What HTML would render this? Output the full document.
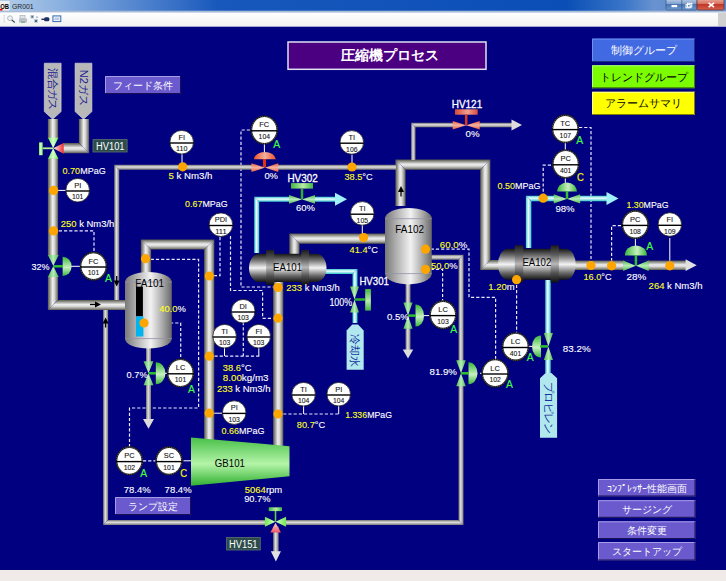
<!DOCTYPE html><html><head><meta charset="utf-8"><style>html,body{margin:0;padding:0;width:726px;height:581px;overflow:hidden;background:#f0ebe9}svg{display:block;font-family:"Liberation Sans",sans-serif}</style></head><body>
<svg width="726" height="581" viewBox="0 0 726 581">
<defs>
<linearGradient id="thick_h" x1="0" y1="0" x2="0" y2="1"><stop offset="0" stop-color="#58584c"/><stop offset="0.2" stop-color="#9a9a94"/><stop offset="0.45" stop-color="#ececec"/><stop offset="0.62" stop-color="#dcdcdc"/><stop offset="0.85" stop-color="#94948c"/><stop offset="1" stop-color="#58584c"/></linearGradient>
<linearGradient id="thick_v" x1="0" y1="0" x2="1" y2="0"><stop offset="0" stop-color="#58584c"/><stop offset="0.2" stop-color="#9a9a94"/><stop offset="0.45" stop-color="#ececec"/><stop offset="0.62" stop-color="#dcdcdc"/><stop offset="0.85" stop-color="#94948c"/><stop offset="1" stop-color="#58584c"/></linearGradient>
<linearGradient id="thin_h" x1="0" y1="0" x2="0" y2="1"><stop offset="0" stop-color="#707070"/><stop offset="0.45" stop-color="#e2e2e2"/><stop offset="1" stop-color="#787878"/></linearGradient>
<linearGradient id="thin_v" x1="0" y1="0" x2="1" y2="0"><stop offset="0" stop-color="#707070"/><stop offset="0.45" stop-color="#e2e2e2"/><stop offset="1" stop-color="#787878"/></linearGradient>
<linearGradient id="cyan_h" x1="0" y1="0" x2="0" y2="1"><stop offset="0" stop-color="#38c4cc"/><stop offset="0.45" stop-color="#f0ffff"/><stop offset="1" stop-color="#38c4cc"/></linearGradient>
<linearGradient id="cyan_v" x1="0" y1="0" x2="1" y2="0"><stop offset="0" stop-color="#38c4cc"/><stop offset="0.45" stop-color="#f0ffff"/><stop offset="1" stop-color="#38c4cc"/></linearGradient>
<linearGradient id="gv_h" x1="0" y1="0" x2="1" y2="0"><stop offset="0" stop-color="#4cb84c"/><stop offset="0.5" stop-color="#b8ecb8"/><stop offset="1" stop-color="#4cb84c"/></linearGradient>
<linearGradient id="gv_v" x1="0" y1="0" x2="0" y2="1"><stop offset="0" stop-color="#4cb84c"/><stop offset="0.5" stop-color="#b8ecb8"/><stop offset="1" stop-color="#4cb84c"/></linearGradient>
<linearGradient id="gbar_h" x1="0" y1="0" x2="1" y2="0"><stop offset="0" stop-color="#40b840"/><stop offset="0.55" stop-color="#b8eca8"/><stop offset="1" stop-color="#40b840"/></linearGradient>
<linearGradient id="gbar_v" x1="0" y1="0" x2="0" y2="1"><stop offset="0" stop-color="#40b840"/><stop offset="0.55" stop-color="#b8eca8"/><stop offset="1" stop-color="#40b840"/></linearGradient>
<linearGradient id="gdome_v" x1="0" y1="0" x2="0" y2="1"><stop offset="0" stop-color="#38b838"/><stop offset="0.55" stop-color="#c8f0c0"/><stop offset="1" stop-color="#38b838"/></linearGradient>
<linearGradient id="gdome_h" x1="0" y1="0" x2="1" y2="0"><stop offset="0" stop-color="#38b838"/><stop offset="0.55" stop-color="#c8f0c0"/><stop offset="1" stop-color="#38b838"/></linearGradient>
<radialGradient id="gdome" cx="0.5" cy="0.6" r="0.6"><stop offset="0" stop-color="#c0f0c0"/><stop offset="1" stop-color="#40b040"/></radialGradient>
<linearGradient id="rv_h" x1="0" y1="0" x2="1" y2="0"><stop offset="0" stop-color="#e05a40"/><stop offset="0.5" stop-color="#f8b0a0"/><stop offset="1" stop-color="#e05a40"/></linearGradient>
<linearGradient id="rbar_h" x1="0" y1="0" x2="1" y2="0"><stop offset="0" stop-color="#d84a38"/><stop offset="0.55" stop-color="#f0a090"/><stop offset="1" stop-color="#d84a38"/></linearGradient>
<linearGradient id="rv_v" x1="0" y1="0" x2="0" y2="1"><stop offset="0" stop-color="#f05a38"/><stop offset="0.5" stop-color="#f4b0a0"/><stop offset="1" stop-color="#f05a38"/></linearGradient>
<linearGradient id="rdome_h" x1="0" y1="0" x2="1" y2="0"><stop offset="0" stop-color="#f05020"/><stop offset="0.5" stop-color="#f0b0a0"/><stop offset="1" stop-color="#f05020"/></linearGradient>
<radialGradient id="rdome" cx="0.5" cy="0.6" r="0.6"><stop offset="0" stop-color="#f8a090"/><stop offset="1" stop-color="#d84a38"/></radialGradient>
<linearGradient id="vessel" x1="0" y1="0" x2="1" y2="0"><stop offset="0" stop-color="#787878"/><stop offset="0.25" stop-color="#b2b2b2"/><stop offset="0.55" stop-color="#f2f2f2"/><stop offset="0.8" stop-color="#aaaaaa"/><stop offset="1" stop-color="#686868"/></linearGradient>
<linearGradient id="hx" x1="0" y1="0" x2="0" y2="1"><stop offset="0" stop-color="#181818"/><stop offset="0.22" stop-color="#707070"/><stop offset="0.5" stop-color="#f4f4f4"/><stop offset="0.78" stop-color="#686868"/><stop offset="1" stop-color="#141414"/></linearGradient>
<linearGradient id="hxf" x1="0" y1="0" x2="0" y2="1"><stop offset="0" stop-color="#1c1c1c"/><stop offset="0.25" stop-color="#5a5a5a"/><stop offset="0.5" stop-color="#b8b8b8"/><stop offset="0.75" stop-color="#505050"/><stop offset="1" stop-color="#101010"/></linearGradient>
<linearGradient id="gb" x1="0" y1="0" x2="0" y2="1"><stop offset="0" stop-color="#48c048"/><stop offset="0.55" stop-color="#b4f4a8"/><stop offset="1" stop-color="#30b030"/></linearGradient>
<linearGradient id="title" x1="0" y1="0" x2="1" y2="0"><stop offset="0" stop-color="#b4cdea"/><stop offset="0.08" stop-color="#8cb2e0"/><stop offset="0.3" stop-color="#1858bc"/><stop offset="0.78" stop-color="#0a4eb6"/><stop offset="0.86" stop-color="#3a76c8"/><stop offset="0.9" stop-color="#6892d0"/><stop offset="1" stop-color="#5a88cc"/></linearGradient>
<linearGradient id="tool" x1="0" y1="0" x2="0" y2="1"><stop offset="0" stop-color="#ffffff"/><stop offset="1" stop-color="#f0f0f0"/></linearGradient>
</defs>
<rect x="0.0" y="0.0" width="726.0" height="581.0" fill="#f0ebe9" />
<rect x="0.0" y="0.0" width="726.0" height="12.5" fill="url(#title)" />
<rect x="0.0" y="10.7" width="726.0" height="1.7" fill="#a8bcd8" />
<rect x="0.0" y="12.5" width="726.0" height="14.5" fill="url(#tool)" />
<rect x="0.0" y="26.5" width="726.0" height="0.5" fill="#a0b0c8" />
<rect x="0.0" y="26.8" width="726.0" height="543.2" fill="#000080" />
<rect x="0.0" y="1.0" width="9.5" height="9.5" fill="#f0f0f0" />
<text x="0.3" y="8.6" font-size="7" font-weight="bold" fill="#000" textLength="8.8" lengthAdjust="spacingAndGlyphs">OB</text>
<rect x="0.0" y="8.8" width="2.5" height="1.7" fill="#e00000" />
<text x="12.0" y="9.2" font-size="7.6" fill="#222" text-anchor="start" font-weight="normal" textLength="21.6" lengthAdjust="spacingAndGlyphs">GR001</text>
<linearGradient id="wbtn" x1="0" y1="0" x2="0" y2="1"><stop offset="0" stop-color="#b8cce8"/><stop offset="0.45" stop-color="#7f9fcc"/><stop offset="0.5" stop-color="#4a76b4"/><stop offset="1" stop-color="#6a9ad0"/></linearGradient>
<linearGradient id="wcls" x1="0" y1="0" x2="0" y2="1"><stop offset="0" stop-color="#e8a898"/><stop offset="0.45" stop-color="#d87060"/><stop offset="0.5" stop-color="#c03828"/><stop offset="1" stop-color="#d86050"/></linearGradient>
<rect x="666.0" y="-1.0" width="31.0" height="11.0" fill="url(#wbtn)" stroke="#40587a" stroke-width="0.7" rx="1.5"/>
<line x1="681.8" y1="0" x2="681.8" y2="10" stroke="#40587a" stroke-width="0.7"/>
<rect x="697.0" y="-1.0" width="27.0" height="11.0" fill="url(#wcls)" stroke="#603030" stroke-width="0.7" rx="1.5"/>
<rect x="671.5" y="5.0" width="5.7" height="2.2" fill="#fff" />
<rect x="687.5" y="3.3" width="4.3" height="3.7" fill="none" stroke="#fff" stroke-width="1"/>
<rect x="686.0" y="4.6" width="4.2" height="3.2" fill="none" stroke="#fff" stroke-width="1"/>
<path d="M708.6,2.8 L714,7.2 M714,2.8 L708.6,7.2" stroke="#fff" stroke-width="1.6"/>
<rect x="3.5" y="15.4" width="1.3" height="0.9" fill="#c0c0c0" />
<rect x="3.5" y="17.4" width="1.3" height="0.9" fill="#c0c0c0" />
<rect x="3.5" y="19.4" width="1.3" height="0.9" fill="#c0c0c0" />
<rect x="3.5" y="21.4" width="1.3" height="0.9" fill="#c0c0c0" />
<circle cx="10" cy="18.2" r="2.4" fill="#f0f4f8" stroke="#a8b4c0" stroke-width="0.9"/><line x1="11.8" y1="20" x2="14.8" y2="22.6" stroke="#405060" stroke-width="1.3"/>
<rect x="20.0" y="15.5" width="5.0" height="3.0" fill="#e0e4ea" stroke="#a0a8b0" stroke-width="0.6"/>
<rect x="19.0" y="18.5" width="8.0" height="4.0" fill="#b8c0c8" />
<rect x="21.0" y="21.5" width="4.0" height="1.3" fill="#80a080" />
<rect x="30.5" y="15.0" width="3.5" height="3.5" fill="#b0c0d0" />
<rect x="31.5" y="16.0" width="1.5" height="1.5" fill="#406890" />
<rect x="34.0" y="19.0" width="4.0" height="3.8" fill="#c0ccd8" />
<rect x="35.0" y="20.0" width="2.0" height="2.0" fill="#406890" />
<rect x="36.5" y="16.5" width="1.0" height="1.5" fill="#5080b0" />
<rect x="41.4" y="18.6" width="2.6" height="1.4" fill="#203060" />
<rect x="44.0" y="17.2" width="5.4" height="4.0" fill="#203060" rx="1.5"/>
<rect x="52.9" y="15.9" width="7.9" height="5.7" fill="#e8f0f8" stroke="#3a6ab0" stroke-width="1"/>
<rect x="54.5" y="17.5" width="4.7" height="2.5" fill="#b8cce8" />
<rect x="718.0" y="13.0" width="8.0" height="13.0" fill="#d0d0d0" />
<polyline points="53.6,230.9 94.0,230.9 94.0,252.0" fill="none" stroke="#e8e8ff" stroke-width="1.2" stroke-dasharray="3.2 2"/>
<polyline points="250.0,130.0 241.0,130.0 241.0,287.0 278.0,287.0" fill="none" stroke="#e8e8ff" stroke-width="1.2" stroke-dasharray="3.2 2"/>
<polyline points="220.0,237.0 220.0,275.6 209.0,275.6" fill="none" stroke="#e8e8ff" stroke-width="1.2" stroke-dasharray="3.2 2"/>
<polyline points="230.5,236.0 230.5,290.5 262.6,290.5 262.6,318.3 278.0,318.3" fill="none" stroke="#e8e8ff" stroke-width="1.2" stroke-dasharray="3.2 2"/>
<polyline points="145.5,259.3 198.6,259.3 198.6,408.0 129.5,408.0 129.5,447.0" fill="none" stroke="#e8e8ff" stroke-width="1.2" stroke-dasharray="3.2 2"/>
<polyline points="144.0,323.0 180.7,323.0 180.7,359.5" fill="none" stroke="#e8e8ff" stroke-width="1.2" stroke-dasharray="3.2 2"/>
<polyline points="209.3,356.2 259.7,356.2" fill="none" stroke="#e8e8ff" stroke-width="1.2" stroke-dasharray="3.2 2"/>
<polyline points="243.3,322.0 243.3,356.0" fill="none" stroke="#e8e8ff" stroke-width="1.2" stroke-dasharray="3.2 2"/>
<polyline points="278.0,414.0 339.0,414.0" fill="none" stroke="#e8e8ff" stroke-width="1.2" stroke-dasharray="3.2 2"/>
<polyline points="143.0,460.8 156.0,460.8" fill="none" stroke="#e8e8ff" stroke-width="1.2" stroke-dasharray="3.2 2"/>
<polyline points="425.5,249.2 469.0,249.2 469.0,297.3 495.6,297.3 495.6,360.0" fill="none" stroke="#e8e8ff" stroke-width="1.2" stroke-dasharray="3.2 2"/>
<polyline points="425.5,269.4 442.6,269.4 442.6,301.0" fill="none" stroke="#e8e8ff" stroke-width="1.2" stroke-dasharray="3.2 2"/>
<polyline points="516.6,279.7 516.6,333.0" fill="none" stroke="#e8e8ff" stroke-width="1.2" stroke-dasharray="3.2 2"/>
<polyline points="579.0,127.5 591.0,127.5 591.0,265.0" fill="none" stroke="#e8e8ff" stroke-width="1.2" stroke-dasharray="3.2 2"/>
<polyline points="551.0,165.2 543.2,165.2 543.2,198.0" fill="none" stroke="#e8e8ff" stroke-width="1.2" stroke-dasharray="3.2 2"/>
<polyline points="621.0,225.7 611.6,225.7 611.6,266.0" fill="none" stroke="#e8e8ff" stroke-width="1.2" stroke-dasharray="3.2 2"/>
<polyline points="53.6,190.4 66.0,190.4" fill="none" stroke="#ffffff" stroke-width="1"/>
<polyline points="182.0,154.0 182.0,166.0" fill="none" stroke="#ffffff" stroke-width="1"/>
<polyline points="264.4,144.0 264.4,152.0" fill="none" stroke="#ffffff" stroke-width="1"/>
<polyline points="352.0,155.0 352.0,167.0" fill="none" stroke="#ffffff" stroke-width="1"/>
<polyline points="362.3,225.0 362.3,237.0" fill="none" stroke="#ffffff" stroke-width="1"/>
<polyline points="71.0,266.3 80.0,266.3" fill="none" stroke="#ffffff" stroke-width="1"/>
<polyline points="165.0,373.3 167.0,373.3" fill="none" stroke="#ffffff" stroke-width="1"/>
<polyline points="224.5,348.0 224.5,356.0" fill="none" stroke="#ffffff" stroke-width="1"/>
<polyline points="258.8,348.0 258.8,356.0" fill="none" stroke="#ffffff" stroke-width="1"/>
<polyline points="209.0,413.2 222.0,413.2" fill="none" stroke="#ffffff" stroke-width="1"/>
<polyline points="303.6,406.0 303.6,414.0" fill="none" stroke="#ffffff" stroke-width="1"/>
<polyline points="338.7,406.0 338.7,414.0" fill="none" stroke="#ffffff" stroke-width="1"/>
<polyline points="183.5,460.8 191.0,460.8" fill="none" stroke="#ffffff" stroke-width="1"/>
<polyline points="565.3,143.0 565.3,150.0" fill="none" stroke="#ffffff" stroke-width="1"/>
<polyline points="565.3,178.0 565.3,183.0" fill="none" stroke="#ffffff" stroke-width="1"/>
<polyline points="635.4,239.0 635.4,246.0" fill="none" stroke="#ffffff" stroke-width="1"/>
<polyline points="669.8,238.0 669.8,266.0" fill="none" stroke="#ffffff" stroke-width="1"/>
<polyline points="424.0,315.6 429.5,315.6" fill="none" stroke="#ffffff" stroke-width="1"/>
<polyline points="480.0,373.3 482.0,373.3" fill="none" stroke="#ffffff" stroke-width="1"/>
<polyline points="541.0,346.4 502.0,346.4" fill="none" stroke="#ffffff" stroke-width="1"/>
<polygon points="47.90,119.00 47.90,310.10 58.10,299.90 58.10,119.00" fill="url(#thick_v)"/>
<polygon points="47.90,310.10 125.00,310.10 125.00,299.90 58.10,299.90" fill="url(#thick_h)"/>
<polygon points="78.90,119.00 78.90,143.10 89.10,153.30 89.10,119.00" fill="url(#thick_v)"/>
<polygon points="78.90,143.10 63.00,143.10 63.00,153.30 89.10,153.30" fill="url(#thick_h)"/>
<polygon points="151.10,274.00 151.10,249.60 140.90,239.40 140.90,274.00" fill="url(#thick_v)"/>
<polygon points="151.10,249.60 204.10,249.60 214.30,239.40 140.90,239.40" fill="url(#thick_h)"/>
<polygon points="204.10,249.60 204.10,440.00 214.30,440.00 214.30,239.40" fill="url(#thick_v)"/>
<polygon points="299.50,254.00 299.50,243.70 289.30,233.50 289.30,254.00" fill="url(#thick_v)"/>
<polygon points="299.50,243.70 386.00,243.70 386.00,233.50 289.30,233.50" fill="url(#thick_h)"/>
<polygon points="273.10,282.00 273.10,446.00 283.30,446.00 283.30,282.00" fill="url(#thick_v)"/>
<polygon points="405.60,206.00 405.60,169.80 395.40,159.60 395.40,206.00" fill="url(#thick_v)"/>
<polygon points="405.60,169.80 480.20,169.80 490.40,159.60 395.40,159.60" fill="url(#thick_h)"/>
<polygon points="480.20,169.80 480.20,270.10 490.40,259.90 490.40,159.60" fill="url(#thick_v)"/>
<polygon points="480.20,270.10 500.00,270.10 500.00,259.90 490.40,259.90" fill="url(#thick_h)"/>
<polygon points="119.20,300.00 119.20,169.70 114.20,164.70 114.20,300.00" fill="url(#thin_v)"/>
<polygon points="119.20,169.70 396.00,169.70 396.00,164.70 114.20,164.70" fill="url(#thin_h)"/>
<polygon points="103.10,310.00 103.10,525.00 108.10,520.00 108.10,310.00" fill="url(#thin_v)"/>
<polygon points="103.10,525.00 463.50,525.00 458.50,520.00 108.10,520.00" fill="url(#thin_h)"/>
<polygon points="463.50,525.00 463.50,254.70 458.50,259.70 458.50,520.00" fill="url(#thin_v)"/>
<polygon points="463.50,254.70 431.00,254.70 431.00,259.70 458.50,259.70" fill="url(#thin_h)"/>
<polygon points="415.50,160.00 415.50,127.20 411.10,122.80 411.10,160.00" fill="url(#thin_v)"/>
<polygon points="415.50,127.20 512.00,127.20 512.00,122.80 411.10,122.80" fill="url(#thin_h)"/>
<polygon points="522.00,125.00 511.50,119.50 511.50,130.50" fill="#dcdcdc"/>
<polygon points="146.00,348.00 146.00,420.00 151.00,420.00 151.00,348.00" fill="url(#thin_v)"/>
<polygon points="148.50,428.70 143.00,419.10 154.00,419.10" fill="#dcdcdc"/>
<polygon points="405.50,284.00 405.50,351.00 410.50,351.00 410.50,284.00" fill="url(#thin_v)"/>
<polygon points="408.00,358.50 402.75,349.50 413.25,349.50" fill="#dcdcdc"/>
<polygon points="273.15,522.00 273.15,552.00 278.65,552.00 278.65,522.00" fill="url(#thin_v)"/>
<polygon points="275.90,561.50 270.85,551.20 280.95,551.20" fill="#e0e0e0"/>
<polygon points="574.00,270.00 686.00,270.00 686.00,260.40 574.00,260.40" fill="url(#thick_h)"/>
<polygon points="696.70,265.20 685.60,259.30 685.60,271.10" fill="#e0e0e0"/>
<polygon points="259.20,253.00 259.20,201.80 254.20,196.80 254.20,253.00" fill="url(#cyan_v)"/>
<polygon points="259.20,201.80 336.00,201.80 336.00,196.80 254.20,196.80" fill="url(#cyan_h)"/>
<polygon points="347.00,199.30 335.00,192.80 335.00,205.80" fill="#a0f0f8"/>
<polygon points="325.00,273.90 352.50,273.90 357.50,268.90 325.00,268.90" fill="url(#cyan_h)"/>
<polygon points="352.50,273.90 352.50,323.00 357.50,323.00 357.50,268.90" fill="url(#cyan_v)"/>
<polygon points="545.25,280.00 545.25,373.00 550.75,373.00 550.75,280.00" fill="url(#cyan_v)"/>
<polygon points="531.35,248.00 531.35,201.15 525.85,195.65 525.85,248.00" fill="url(#cyan_v)"/>
<polygon points="531.35,201.15 607.00,201.15 607.00,195.65 525.85,195.65" fill="url(#cyan_h)"/>
<polygon points="618.50,198.40 606.50,191.90 606.50,204.90" fill="#a0f0f8"/>
<polygon points="101.00,304.50 95.00,301.50 95.00,307.50" fill="#000"/>
<polyline points="90.0,304.5 96.0,304.5" fill="none" stroke="#000" stroke-width="1.3"/>
<polygon points="116.70,286.50 113.70,280.50 119.70,280.50" fill="#000"/>
<polyline points="116.7,276.0 116.7,281.0" fill="none" stroke="#000" stroke-width="1.3"/>
<polygon points="105.60,317.50 102.60,323.50 108.60,323.50" fill="#000"/>
<polyline points="105.6,323.0 105.6,327.5" fill="none" stroke="#000" stroke-width="1.3"/>
<polygon points="401.00,186.00 398.00,192.00 404.00,192.00" fill="#000"/>
<polyline points="401.0,191.0 401.0,196.5" fill="none" stroke="#000" stroke-width="1.3"/>
<path d="M125.0,282.0 A23.4,10.0 0 0 1 171.8,282.0 L171.8,338.6 A23.4,10.0 0 0 1 125.0,338.6 Z" fill="url(#vessel)"/>
<line x1="125.0" y1="282.0" x2="171.8" y2="282.0" stroke="#9090a8" stroke-width="0.8"/>
<line x1="125.0" y1="338.6" x2="171.8" y2="338.6" stroke="#9090a8" stroke-width="0.8"/>
<rect x="136.0" y="286.7" width="6.9" height="29.7" fill="#000" />
<rect x="136.0" y="316.4" width="7.4" height="20.1" fill="#00b4f0" />
<text x="135.3" y="286.7" font-size="11.0" fill="#000" text-anchor="start" font-weight="normal" textLength="28.7" lengthAdjust="spacingAndGlyphs">FA101</text>
<path d="M385.0,218.7 A23.4,10.8 0 0 1 431.8,218.7 L431.8,273.6 A23.4,10.8 0 0 1 385.0,273.6 Z" fill="url(#vessel)"/>
<line x1="385.0" y1="218.7" x2="431.8" y2="218.7" stroke="#9090a8" stroke-width="0.8"/>
<line x1="385.0" y1="273.6" x2="431.8" y2="273.6" stroke="#9090a8" stroke-width="0.8"/>
<text x="395.3" y="232.8" font-size="11.0" fill="#000" text-anchor="start" font-weight="normal" textLength="28.7" lengthAdjust="spacingAndGlyphs">FA102</text>
<rect x="249.0" y="253.8" width="77.5" height="28.2" rx="10" ry="14.1" fill="url(#hx)"/>
<rect x="266.2" y="249.9" width="8.0" height="34.9" fill="url(#hxf)"/>
<rect x="301.3" y="249.9" width="7.8" height="34.9" fill="url(#hxf)"/>
<text x="273.0" y="270.6" font-size="11.0" fill="#000" text-anchor="start" font-weight="normal" textLength="29.0" lengthAdjust="spacingAndGlyphs">EA101</text>
<rect x="498.0" y="248.8" width="77.7" height="31.0" rx="10" ry="15.5" fill="url(#hx)"/>
<rect x="514.8" y="245.3" width="8.5" height="37.2" fill="url(#hxf)"/>
<rect x="550.6" y="245.3" width="8.3" height="37.2" fill="url(#hxf)"/>
<text x="522.4" y="265.6" font-size="11.0" fill="#000" text-anchor="start" font-weight="normal" textLength="28.9" lengthAdjust="spacingAndGlyphs">EA102</text>
<polygon points="191,437.4 289.5,446.2 289.5,476.3 191,485.7" fill="url(#gb)"/>
<text x="214.8" y="467.0" font-size="11.0" fill="#000" text-anchor="start" font-weight="normal" textLength="30.1" lengthAdjust="spacingAndGlyphs">GB101</text>
<circle cx="53.6" cy="190.4" r="4.6" fill="#ffa500"/>
<circle cx="53.6" cy="230.9" r="4.6" fill="#ffa500"/>
<circle cx="182.7" cy="166.8" r="4.6" fill="#ffa500"/>
<circle cx="352.0" cy="167.0" r="4.6" fill="#ffa500"/>
<circle cx="145.5" cy="258.7" r="4.6" fill="#ffa500"/>
<circle cx="209.3" cy="276.0" r="4.6" fill="#ffa500"/>
<circle cx="209.3" cy="356.2" r="4.6" fill="#ffa500"/>
<circle cx="209.2" cy="413.2" r="4.6" fill="#ffa500"/>
<circle cx="278.0" cy="287.5" r="4.6" fill="#ffa500"/>
<circle cx="278.0" cy="318.2" r="4.6" fill="#ffa500"/>
<circle cx="278.0" cy="414.0" r="4.6" fill="#ffa500"/>
<circle cx="363.6" cy="237.6" r="4.6" fill="#ffa500"/>
<circle cx="425.5" cy="249.2" r="4.6" fill="#ffa500"/>
<circle cx="425.5" cy="269.4" r="4.6" fill="#ffa500"/>
<circle cx="516.6" cy="279.7" r="4.6" fill="#ffa500"/>
<circle cx="543.2" cy="198.2" r="4.6" fill="#ffa500"/>
<circle cx="591.0" cy="265.5" r="4.6" fill="#ffa500"/>
<circle cx="611.6" cy="265.8" r="4.6" fill="#ffa500"/>
<circle cx="669.8" cy="265.8" r="4.6" fill="#ffa500"/>
<circle cx="144.0" cy="323.0" r="4.6" fill="#ffa500"/>
<rect x="48.0" y="138.4" width="10.4" height="19.8" fill="#000080"/>
<polygon points="48.0,137.8 58.4,137.8 48.0,158.8 58.4,158.8" fill="url(#lime_h)"/>
<linearGradient id="pink_h" x1="0" y1="0" x2="1" y2="0"><stop offset="0" stop-color="#fff0f0"/><stop offset="1" stop-color="#f03030"/></linearGradient>
<polygon points="53.2,148.3 63.7,143 63.7,153.8" fill="url(#pink_h)"/>
<rect x="39.0" y="142.4" width="3.7" height="12.8" fill="url(#lime_h)" />
<polyline points="42.7,148.3 53.0,148.3" fill="none" stroke="#b0f090" stroke-width="1.8"/>
<rect x="47.9" y="255.6" width="10.8" height="20.8" fill="#000080"/>
<polygon points="47.9,255.0 58.7,255.0 47.9,277.0 58.7,277.0" fill="url(#gv_h)"/>
<path d="M62.6,256.7 A9.0,9.7 0 0 1 62.6,276.1 Z" fill="url(#gdome_v)"/>
<polyline points="53.3,266.3 63.0,266.3" fill="none" stroke="#30c030" stroke-width="2.5"/>
<rect x="252.0" y="163.2" width="25.7" height="8.9" fill="#000080"/>
<polygon points="251.4,163.2 278.3,172.0 278.3,163.2 251.4,172.0" fill="url(#rv_v)"/>
<path d="M253.8,159.3 A11.1,8.2 0 0 1 275.9,159.3 Z" fill="url(#rdome_h)"/>
<polyline points="264.5,159.0 264.5,167.0" fill="none" stroke="#e83010" stroke-width="3"/>
<rect x="453.3" y="120.9" width="25.8" height="8.6" fill="#000080"/>
<polygon points="452.7,120.9 479.7,129.5 479.7,120.9 452.7,129.5" fill="url(#rv_v)"/>
<rect x="455.0" y="109.3" width="22.7" height="5.4" fill="url(#rbar_h)" />
<polyline points="466.2,114.5 466.2,125.0" fill="none" stroke="#e03820" stroke-width="2.5"/>
<rect x="289.6" y="195.1" width="24.8" height="8.6" fill="#000080"/>
<polygon points="289.0,195.1 315.0,203.7 315.0,195.1 289.0,203.7" fill="url(#gv_v)"/>
<rect x="291.0" y="183.1" width="22.0" height="5.5" fill="url(#gbar_h)" />
<polyline points="302.0,189.0 302.0,199.0" fill="none" stroke="#30b030" stroke-width="2.5"/>
<rect x="350.0" y="287.1" width="9.0" height="24.8" fill="#000080"/>
<polygon points="350.0,286.5 359.0,286.5 350.0,312.5 359.0,312.5" fill="url(#gv_h)"/>
<rect x="365.2" y="289.0" width="5.7" height="21.6" fill="url(#gbar_v)" />
<polyline points="354.5,299.5 365.2,299.5" fill="none" stroke="#30b030" stroke-width="2.5"/>
<rect x="143.5" y="361.9" width="10.0" height="22.8" fill="#000080"/>
<polygon points="143.5,361.3 153.5,361.3 143.5,385.3 153.5,385.3" fill="url(#gv_h)"/>
<path d="M155.8,362.3 A9.7,11.0 0 0 1 155.8,384.3 Z" fill="url(#gdome_v)"/>
<polyline points="148.5,373.3 156.0,373.3" fill="none" stroke="#30c030" stroke-width="2.5"/>
<rect x="403.4" y="303.0" width="9.2" height="25.2" fill="#000080"/>
<polygon points="403.4,302.4 412.6,302.4 403.4,328.8 412.6,328.8" fill="url(#gv_h)"/>
<path d="M415.5,304.6 A8.6,11.0 0 0 1 415.5,326.6 Z" fill="url(#gdome_v)"/>
<polyline points="408.0,315.6 416.0,315.6" fill="none" stroke="#30c030" stroke-width="2.5"/>
<rect x="456.2" y="360.9" width="9.6" height="24.8" fill="#000080"/>
<polygon points="456.2,360.3 465.8,360.3 456.2,386.3 465.8,386.3" fill="url(#gv_h)"/>
<path d="M468.5,362.3 A9.0,11.0 0 0 1 468.5,384.3 Z" fill="url(#gdome_v)"/>
<polyline points="461.0,373.3 469.0,373.3" fill="none" stroke="#30c030" stroke-width="2.5"/>
<rect x="543.8" y="333.5" width="9.2" height="25.8" fill="#000080"/>
<polygon points="543.8,332.9 553.0,332.9 543.8,359.9 553.0,359.9" fill="url(#gv_h)"/>
<path d="M541.0,335.4 A9.0,11.0 0 0 0 541.0,357.4 Z" fill="url(#gdome_v)"/>
<polyline points="540.0,346.4 548.0,346.4" fill="none" stroke="#30c030" stroke-width="2.5"/>
<rect x="554.4" y="194.3" width="25.2" height="9.2" fill="#000080"/>
<polygon points="553.8,194.3 580.2,203.5 580.2,194.3 553.8,203.5" fill="url(#gv_v)"/>
<path d="M557.0,191.6 A10.0,9.0 0 0 1 577.0,191.6 Z" fill="url(#gdome_h)"/>
<polyline points="567.0,191.0 567.0,198.9" fill="none" stroke="#30c030" stroke-width="2.5"/>
<rect x="623.7" y="260.4" width="24.4" height="10.6" fill="#000080"/>
<polygon points="623.1,260.4 648.7,271.0 648.7,260.4 623.1,271.0" fill="url(#gv_v)"/>
<path d="M624.9,255.4 A11.0,10.0 0 0 1 646.9,255.4 Z" fill="url(#gdome_h)"/>
<polyline points="635.9,255.0 635.9,265.5" fill="none" stroke="#30c030" stroke-width="2.5"/>
<linearGradient id="lime_h" x1="0" y1="0" x2="1" y2="0"><stop offset="0" stop-color="#70e850"/><stop offset="0.5" stop-color="#d8ffd0"/><stop offset="1" stop-color="#70e850"/></linearGradient>
<linearGradient id="pink_v" x1="0" y1="0" x2="0" y2="1"><stop offset="0" stop-color="#ffd8d8"/><stop offset="1" stop-color="#f05060"/></linearGradient>
<rect x="265.5" y="516.7" width="20.0" height="10.0" fill="#000080"/>
<polygon points="264.9,516.7 286.1,526.7 286.1,516.7 264.9,526.7" fill="url(#lime_h)"/>
<rect x="268.7" y="507.3" width="13.3" height="3.8" fill="url(#gbar_h)" />
<polyline points="275.5,511.0 275.5,521.5" fill="none" stroke="#60d040" stroke-width="1.6"/>
<polygon points="275.5,522.8 270.4,532.5 281,532.5" fill="url(#pink_v)"/>
<circle cx="181.7" cy="142.2" r="11.8" fill="#fff" stroke="#222" stroke-width="0.8"/>
<line x1="169.7" y1="143.0" x2="193.7" y2="143.0" stroke="#000" stroke-width="1.4"/>
<text x="181.7" y="139.6" font-size="7.4" text-anchor="middle" fill="#111" stroke="#111" stroke-width="0.1">FI</text>
<text x="181.7" y="151.3" font-size="7.6" text-anchor="middle" fill="#111" stroke="#111" stroke-width="0.1" textLength="11.4" lengthAdjust="spacingAndGlyphs">110</text>
<ellipse cx="264.3" cy="130.0" rx="12.9" ry="13.7" fill="#fff" stroke="#1a1a1a" stroke-width="1.6"/>
<ellipse cx="264.3" cy="130.0" rx="12.8" ry="13.5" fill="none" stroke="#a0a0a0" stroke-width="0.6" stroke-dasharray="1 1.2"/>
<line x1="250.9" y1="130.8" x2="277.7" y2="130.8" stroke="#000" stroke-width="1.4"/>
<text x="264.3" y="127.4" font-size="7.4" text-anchor="middle" fill="#111" stroke="#111" stroke-width="0.1">FC</text>
<text x="264.3" y="139.1" font-size="7.6" text-anchor="middle" fill="#111" stroke="#111" stroke-width="0.1" textLength="11.4" lengthAdjust="spacingAndGlyphs">104</text>
<circle cx="351.8" cy="142.4" r="11.8" fill="#fff" stroke="#222" stroke-width="0.8"/>
<line x1="339.8" y1="143.2" x2="363.8" y2="143.2" stroke="#000" stroke-width="1.4"/>
<text x="351.8" y="139.8" font-size="7.4" text-anchor="middle" fill="#111" stroke="#111" stroke-width="0.1">TI</text>
<text x="351.8" y="151.5" font-size="7.6" text-anchor="middle" fill="#111" stroke="#111" stroke-width="0.1" textLength="11.4" lengthAdjust="spacingAndGlyphs">106</text>
<ellipse cx="565.3" cy="128.8" rx="12.9" ry="13.7" fill="#fff" stroke="#1a1a1a" stroke-width="1.6"/>
<ellipse cx="565.3" cy="128.8" rx="12.8" ry="13.5" fill="none" stroke="#a0a0a0" stroke-width="0.6" stroke-dasharray="1 1.2"/>
<line x1="551.9" y1="129.6" x2="578.7" y2="129.6" stroke="#000" stroke-width="1.4"/>
<text x="565.3" y="126.2" font-size="7.4" text-anchor="middle" fill="#111" stroke="#111" stroke-width="0.1">TC</text>
<text x="565.3" y="137.9" font-size="7.6" text-anchor="middle" fill="#111" stroke="#111" stroke-width="0.1" textLength="11.4" lengthAdjust="spacingAndGlyphs">107</text>
<ellipse cx="565.7" cy="164.0" rx="12.9" ry="13.7" fill="#fff" stroke="#1a1a1a" stroke-width="1.6"/>
<ellipse cx="565.7" cy="164.0" rx="12.8" ry="13.5" fill="none" stroke="#a0a0a0" stroke-width="0.6" stroke-dasharray="1 1.2"/>
<line x1="552.3" y1="164.8" x2="579.1" y2="164.8" stroke="#000" stroke-width="1.4"/>
<text x="565.7" y="161.4" font-size="7.4" text-anchor="middle" fill="#111" stroke="#111" stroke-width="0.1">PC</text>
<text x="565.7" y="173.1" font-size="7.6" text-anchor="middle" fill="#111" stroke="#111" stroke-width="0.1" textLength="11.4" lengthAdjust="spacingAndGlyphs">401</text>
<circle cx="77.7" cy="190.2" r="11.8" fill="#fff" stroke="#222" stroke-width="0.8"/>
<line x1="65.7" y1="191.0" x2="89.7" y2="191.0" stroke="#000" stroke-width="1.4"/>
<text x="77.7" y="187.6" font-size="7.4" text-anchor="middle" fill="#111" stroke="#111" stroke-width="0.1">PI</text>
<text x="77.7" y="199.3" font-size="7.6" text-anchor="middle" fill="#111" stroke="#111" stroke-width="0.1" textLength="11.4" lengthAdjust="spacingAndGlyphs">101</text>
<ellipse cx="93.5" cy="266.2" rx="12.9" ry="13.7" fill="#fff" stroke="#1a1a1a" stroke-width="1.6"/>
<ellipse cx="93.5" cy="266.2" rx="12.8" ry="13.5" fill="none" stroke="#a0a0a0" stroke-width="0.6" stroke-dasharray="1 1.2"/>
<line x1="80.1" y1="267.0" x2="106.9" y2="267.0" stroke="#000" stroke-width="1.4"/>
<text x="93.5" y="263.6" font-size="7.4" text-anchor="middle" fill="#111" stroke="#111" stroke-width="0.1">FC</text>
<text x="93.5" y="275.3" font-size="7.6" text-anchor="middle" fill="#111" stroke="#111" stroke-width="0.1" textLength="11.4" lengthAdjust="spacingAndGlyphs">101</text>
<circle cx="220.9" cy="224.7" r="11.8" fill="#fff" stroke="#222" stroke-width="0.8"/>
<line x1="208.9" y1="225.5" x2="232.9" y2="225.5" stroke="#000" stroke-width="1.4"/>
<text x="220.9" y="222.1" font-size="7.4" text-anchor="middle" fill="#111" stroke="#111" stroke-width="0.1">PDI</text>
<text x="220.9" y="233.8" font-size="7.6" text-anchor="middle" fill="#111" stroke="#111" stroke-width="0.1" textLength="11.4" lengthAdjust="spacingAndGlyphs">111</text>
<circle cx="362.3" cy="213.4" r="11.8" fill="#fff" stroke="#222" stroke-width="0.8"/>
<line x1="350.3" y1="214.2" x2="374.3" y2="214.2" stroke="#000" stroke-width="1.4"/>
<text x="362.3" y="210.8" font-size="7.4" text-anchor="middle" fill="#111" stroke="#111" stroke-width="0.1">TI</text>
<text x="362.3" y="222.5" font-size="7.6" text-anchor="middle" fill="#111" stroke="#111" stroke-width="0.1" textLength="11.4" lengthAdjust="spacingAndGlyphs">105</text>
<ellipse cx="180.5" cy="373.0" rx="12.9" ry="13.7" fill="#fff" stroke="#1a1a1a" stroke-width="1.6"/>
<ellipse cx="180.5" cy="373.0" rx="12.8" ry="13.5" fill="none" stroke="#a0a0a0" stroke-width="0.6" stroke-dasharray="1 1.2"/>
<line x1="167.1" y1="373.8" x2="193.9" y2="373.8" stroke="#000" stroke-width="1.4"/>
<text x="180.5" y="370.4" font-size="7.4" text-anchor="middle" fill="#111" stroke="#111" stroke-width="0.1">LC</text>
<text x="180.5" y="382.1" font-size="7.6" text-anchor="middle" fill="#111" stroke="#111" stroke-width="0.1" textLength="11.4" lengthAdjust="spacingAndGlyphs">101</text>
<circle cx="243.2" cy="311.2" r="11.8" fill="#fff" stroke="#222" stroke-width="0.8"/>
<line x1="231.2" y1="312.0" x2="255.2" y2="312.0" stroke="#000" stroke-width="1.4"/>
<text x="243.2" y="308.6" font-size="7.4" text-anchor="middle" fill="#111" stroke="#111" stroke-width="0.1">DI</text>
<text x="243.2" y="320.3" font-size="7.6" text-anchor="middle" fill="#111" stroke="#111" stroke-width="0.1" textLength="11.4" lengthAdjust="spacingAndGlyphs">103</text>
<circle cx="224.6" cy="336.2" r="11.8" fill="#fff" stroke="#222" stroke-width="0.8"/>
<line x1="212.6" y1="337.0" x2="236.6" y2="337.0" stroke="#000" stroke-width="1.4"/>
<text x="224.6" y="333.6" font-size="7.4" text-anchor="middle" fill="#111" stroke="#111" stroke-width="0.1">TI</text>
<text x="224.6" y="345.3" font-size="7.6" text-anchor="middle" fill="#111" stroke="#111" stroke-width="0.1" textLength="11.4" lengthAdjust="spacingAndGlyphs">103</text>
<circle cx="258.7" cy="336.2" r="11.8" fill="#fff" stroke="#222" stroke-width="0.8"/>
<line x1="246.7" y1="337.0" x2="270.7" y2="337.0" stroke="#000" stroke-width="1.4"/>
<text x="258.7" y="333.6" font-size="7.4" text-anchor="middle" fill="#111" stroke="#111" stroke-width="0.1">FI</text>
<text x="258.7" y="345.3" font-size="7.6" text-anchor="middle" fill="#111" stroke="#111" stroke-width="0.1" textLength="11.4" lengthAdjust="spacingAndGlyphs">103</text>
<circle cx="234.2" cy="412.6" r="11.8" fill="#fff" stroke="#222" stroke-width="0.8"/>
<line x1="222.2" y1="413.4" x2="246.2" y2="413.4" stroke="#000" stroke-width="1.4"/>
<text x="234.2" y="410.0" font-size="7.4" text-anchor="middle" fill="#111" stroke="#111" stroke-width="0.1">PI</text>
<text x="234.2" y="421.7" font-size="7.6" text-anchor="middle" fill="#111" stroke="#111" stroke-width="0.1" textLength="11.4" lengthAdjust="spacingAndGlyphs">103</text>
<circle cx="303.6" cy="394.2" r="11.8" fill="#fff" stroke="#222" stroke-width="0.8"/>
<line x1="291.6" y1="395.0" x2="315.6" y2="395.0" stroke="#000" stroke-width="1.4"/>
<text x="303.6" y="391.6" font-size="7.4" text-anchor="middle" fill="#111" stroke="#111" stroke-width="0.1">TI</text>
<text x="303.6" y="403.3" font-size="7.6" text-anchor="middle" fill="#111" stroke="#111" stroke-width="0.1" textLength="11.4" lengthAdjust="spacingAndGlyphs">104</text>
<circle cx="338.7" cy="394.2" r="11.8" fill="#fff" stroke="#222" stroke-width="0.8"/>
<line x1="326.7" y1="395.0" x2="350.7" y2="395.0" stroke="#000" stroke-width="1.4"/>
<text x="338.7" y="391.6" font-size="7.4" text-anchor="middle" fill="#111" stroke="#111" stroke-width="0.1">PI</text>
<text x="338.7" y="403.3" font-size="7.6" text-anchor="middle" fill="#111" stroke="#111" stroke-width="0.1" textLength="11.4" lengthAdjust="spacingAndGlyphs">104</text>
<ellipse cx="129.4" cy="460.8" rx="12.9" ry="13.7" fill="#fff" stroke="#1a1a1a" stroke-width="1.6"/>
<ellipse cx="129.4" cy="460.8" rx="12.8" ry="13.5" fill="none" stroke="#a0a0a0" stroke-width="0.6" stroke-dasharray="1 1.2"/>
<line x1="116.0" y1="461.6" x2="142.8" y2="461.6" stroke="#000" stroke-width="1.4"/>
<text x="129.4" y="458.2" font-size="7.4" text-anchor="middle" fill="#111" stroke="#111" stroke-width="0.1">PC</text>
<text x="129.4" y="469.9" font-size="7.6" text-anchor="middle" fill="#111" stroke="#111" stroke-width="0.1" textLength="11.4" lengthAdjust="spacingAndGlyphs">102</text>
<ellipse cx="169.0" cy="460.8" rx="12.9" ry="13.7" fill="#fff" stroke="#1a1a1a" stroke-width="1.6"/>
<ellipse cx="169.0" cy="460.8" rx="12.8" ry="13.5" fill="none" stroke="#a0a0a0" stroke-width="0.6" stroke-dasharray="1 1.2"/>
<line x1="155.6" y1="461.6" x2="182.4" y2="461.6" stroke="#000" stroke-width="1.4"/>
<text x="169.0" y="458.2" font-size="7.4" text-anchor="middle" fill="#111" stroke="#111" stroke-width="0.1">SC</text>
<text x="169.0" y="469.9" font-size="7.6" text-anchor="middle" fill="#111" stroke="#111" stroke-width="0.1" textLength="11.4" lengthAdjust="spacingAndGlyphs">101</text>
<ellipse cx="443.0" cy="314.8" rx="12.9" ry="13.7" fill="#fff" stroke="#1a1a1a" stroke-width="1.6"/>
<ellipse cx="443.0" cy="314.8" rx="12.8" ry="13.5" fill="none" stroke="#a0a0a0" stroke-width="0.6" stroke-dasharray="1 1.2"/>
<line x1="429.6" y1="315.6" x2="456.4" y2="315.6" stroke="#000" stroke-width="1.4"/>
<text x="443.0" y="312.1" font-size="7.4" text-anchor="middle" fill="#111" stroke="#111" stroke-width="0.1">LC</text>
<text x="443.0" y="323.9" font-size="7.6" text-anchor="middle" fill="#111" stroke="#111" stroke-width="0.1" textLength="11.4" lengthAdjust="spacingAndGlyphs">103</text>
<ellipse cx="495.1" cy="373.2" rx="12.9" ry="13.7" fill="#fff" stroke="#1a1a1a" stroke-width="1.6"/>
<ellipse cx="495.1" cy="373.2" rx="12.8" ry="13.5" fill="none" stroke="#a0a0a0" stroke-width="0.6" stroke-dasharray="1 1.2"/>
<line x1="481.7" y1="374.0" x2="508.5" y2="374.0" stroke="#000" stroke-width="1.4"/>
<text x="495.1" y="370.6" font-size="7.4" text-anchor="middle" fill="#111" stroke="#111" stroke-width="0.1">LC</text>
<text x="495.1" y="382.3" font-size="7.6" text-anchor="middle" fill="#111" stroke="#111" stroke-width="0.1" textLength="11.4" lengthAdjust="spacingAndGlyphs">102</text>
<ellipse cx="515.5" cy="346.7" rx="12.9" ry="13.7" fill="#fff" stroke="#1a1a1a" stroke-width="1.6"/>
<ellipse cx="515.5" cy="346.7" rx="12.8" ry="13.5" fill="none" stroke="#a0a0a0" stroke-width="0.6" stroke-dasharray="1 1.2"/>
<line x1="502.1" y1="347.5" x2="528.9" y2="347.5" stroke="#000" stroke-width="1.4"/>
<text x="515.5" y="344.1" font-size="7.4" text-anchor="middle" fill="#111" stroke="#111" stroke-width="0.1">LC</text>
<text x="515.5" y="355.8" font-size="7.6" text-anchor="middle" fill="#111" stroke="#111" stroke-width="0.1" textLength="11.4" lengthAdjust="spacingAndGlyphs">401</text>
<ellipse cx="635.2" cy="224.6" rx="12.9" ry="13.7" fill="#fff" stroke="#1a1a1a" stroke-width="1.6"/>
<ellipse cx="635.2" cy="224.6" rx="12.8" ry="13.5" fill="none" stroke="#a0a0a0" stroke-width="0.6" stroke-dasharray="1 1.2"/>
<line x1="621.8" y1="225.4" x2="648.6" y2="225.4" stroke="#000" stroke-width="1.4"/>
<text x="635.2" y="222.0" font-size="7.4" text-anchor="middle" fill="#111" stroke="#111" stroke-width="0.1">PC</text>
<text x="635.2" y="233.7" font-size="7.6" text-anchor="middle" fill="#111" stroke="#111" stroke-width="0.1" textLength="11.4" lengthAdjust="spacingAndGlyphs">108</text>
<circle cx="669.8" cy="224.5" r="11.8" fill="#fff" stroke="#222" stroke-width="0.8"/>
<line x1="657.8" y1="225.3" x2="681.8" y2="225.3" stroke="#000" stroke-width="1.4"/>
<text x="669.8" y="221.9" font-size="7.4" text-anchor="middle" fill="#111" stroke="#111" stroke-width="0.1">FI</text>
<text x="669.8" y="233.6" font-size="7.6" text-anchor="middle" fill="#111" stroke="#111" stroke-width="0.1" textLength="11.4" lengthAdjust="spacingAndGlyphs">109</text>
<text x="273.2" y="147.9" font-size="11" fill="#40ff40" stroke="#40ff40" stroke-width="0.15" textLength="6.9" lengthAdjust="spacingAndGlyphs">A</text>
<text x="104.9" y="281.7" font-size="11" fill="#40ff40" stroke="#40ff40" stroke-width="0.15" textLength="6.9" lengthAdjust="spacingAndGlyphs">A</text>
<text x="450.2" y="332.6" font-size="11" fill="#40ff40" stroke="#40ff40" stroke-width="0.15" textLength="6.9" lengthAdjust="spacingAndGlyphs">A</text>
<text x="506.1" y="387.7" font-size="11" fill="#40ff40" stroke="#40ff40" stroke-width="0.15" textLength="6.9" lengthAdjust="spacingAndGlyphs">A</text>
<text x="526.8" y="360.9" font-size="11" fill="#40ff40" stroke="#40ff40" stroke-width="0.15" textLength="6.9" lengthAdjust="spacingAndGlyphs">A</text>
<text x="646.2" y="250.1" font-size="11" fill="#40ff40" stroke="#40ff40" stroke-width="0.15" textLength="6.9" lengthAdjust="spacingAndGlyphs">A</text>
<text x="188.0" y="393.0" font-size="11" fill="#40ff40" stroke="#40ff40" stroke-width="0.15" textLength="6.9" lengthAdjust="spacingAndGlyphs">A</text>
<text x="140.2" y="476.9" font-size="11" fill="#40ff40" stroke="#40ff40" stroke-width="0.15" textLength="6.9" lengthAdjust="spacingAndGlyphs">A</text>
<text x="576.2" y="143.8" font-size="11" fill="#40ff40" stroke="#40ff40" stroke-width="0.15" textLength="6.9" lengthAdjust="spacingAndGlyphs">A</text>
<text x="180.2" y="476.9" font-size="11" fill="#ffff00" stroke="#ffff00" stroke-width="0.15" textLength="6.9" lengthAdjust="spacingAndGlyphs">C</text>
<text x="577.1" y="181.1" font-size="11" fill="#ffff00" stroke="#ffff00" stroke-width="0.15" textLength="6.9" lengthAdjust="spacingAndGlyphs">C</text>
<text x="62.6" y="174.4" font-size="9.5" textLength="43.1" lengthAdjust="spacingAndGlyphs"><tspan fill="#ffff20" stroke="#ffff20" stroke-width="0.12">0.70</tspan><tspan fill="#fff" stroke="#fff" stroke-width="0.12">MPaG</tspan></text>
<text x="60.8" y="226.6" font-size="9.5" textLength="53.5" lengthAdjust="spacingAndGlyphs"><tspan fill="#ffff20" stroke="#ffff20" stroke-width="0.12">250</tspan><tspan fill="#fff" stroke="#fff" stroke-width="0.12"> k Nm3/h</tspan></text>
<text x="31.6" y="270.4" font-size="9.8" fill="#fff" text-anchor="start" font-weight="normal" textLength="18.0" lengthAdjust="spacingAndGlyphs" stroke="#fff" stroke-width="0.12">32%</text>
<text x="168.5" y="179.2" font-size="9.5" textLength="44.0" lengthAdjust="spacingAndGlyphs"><tspan fill="#ffff20" stroke="#ffff20" stroke-width="0.12">5</tspan><tspan fill="#fff" stroke="#fff" stroke-width="0.12"> k Nm3/h</tspan></text>
<text x="264.4" y="178.6" font-size="9.8" fill="#fff" text-anchor="start" font-weight="normal" textLength="13.6" lengthAdjust="spacingAndGlyphs" stroke="#fff" stroke-width="0.12">0%</text>
<text x="344.4" y="179.6" font-size="9.5" textLength="28.3" lengthAdjust="spacingAndGlyphs"><tspan fill="#ffff20" stroke="#ffff20" stroke-width="0.12">38.5</tspan><tspan fill="#fff" stroke="#fff" stroke-width="0.12">°C</tspan></text>
<text x="185.1" y="206.5" font-size="9.5" textLength="42.6" lengthAdjust="spacingAndGlyphs"><tspan fill="#ffff20" stroke="#ffff20" stroke-width="0.12">0.67</tspan><tspan fill="#fff" stroke="#fff" stroke-width="0.12">MPaG</tspan></text>
<text x="296.0" y="210.8" font-size="9.8" fill="#fff" text-anchor="start" font-weight="normal" textLength="19.0" lengthAdjust="spacingAndGlyphs" stroke="#fff" stroke-width="0.12">60%</text>
<text x="349.6" y="253.4" font-size="9.5" textLength="28.3" lengthAdjust="spacingAndGlyphs"><tspan fill="#ffff20" stroke="#ffff20" stroke-width="0.12">41.4</tspan><tspan fill="#fff" stroke="#fff" stroke-width="0.12">°C</tspan></text>
<text x="286.3" y="290.9" font-size="9.5" textLength="53.4" lengthAdjust="spacingAndGlyphs"><tspan fill="#ffff20" stroke="#ffff20" stroke-width="0.12">233</tspan><tspan fill="#fff" stroke="#fff" stroke-width="0.12"> k Nm3/h</tspan></text>
<text x="329.4" y="306.4" font-size="10.0" fill="#fff" text-anchor="start" font-weight="normal" textLength="22.8" lengthAdjust="spacingAndGlyphs" stroke="#fff" stroke-width="0.12">100%</text>
<text x="159.3" y="311.8" font-size="9.5" textLength="26.6" lengthAdjust="spacingAndGlyphs"><tspan fill="#ffff20" stroke="#ffff20" stroke-width="0.12">40.0</tspan><tspan fill="#fff" stroke="#fff" stroke-width="0.12">%</tspan></text>
<text x="126.6" y="378.2" font-size="9.8" fill="#fff" text-anchor="start" font-weight="normal" textLength="21.0" lengthAdjust="spacingAndGlyphs" stroke="#fff" stroke-width="0.12">0.7%</text>
<text x="222.8" y="370.6" font-size="9.5" textLength="28.7" lengthAdjust="spacingAndGlyphs"><tspan fill="#ffff20" stroke="#ffff20" stroke-width="0.12">38.6</tspan><tspan fill="#fff" stroke="#fff" stroke-width="0.12">°C</tspan></text>
<text x="222.8" y="380.6" font-size="9.5" textLength="45.7" lengthAdjust="spacingAndGlyphs"><tspan fill="#ffff20" stroke="#ffff20" stroke-width="0.12">8.00</tspan><tspan fill="#fff" stroke="#fff" stroke-width="0.12">kg/m3</tspan></text>
<text x="216.9" y="391.7" font-size="9.5" textLength="53.6" lengthAdjust="spacingAndGlyphs"><tspan fill="#ffff20" stroke="#ffff20" stroke-width="0.12">233</tspan><tspan fill="#fff" stroke="#fff" stroke-width="0.12"> k Nm3/h</tspan></text>
<text x="221.6" y="434.2" font-size="9.5" textLength="43.0" lengthAdjust="spacingAndGlyphs"><tspan fill="#ffff20" stroke="#ffff20" stroke-width="0.12">0.66</tspan><tspan fill="#fff" stroke="#fff" stroke-width="0.12">MPaG</tspan></text>
<text x="296.8" y="428.3" font-size="9.5" textLength="28.4" lengthAdjust="spacingAndGlyphs"><tspan fill="#ffff20" stroke="#ffff20" stroke-width="0.12">80.7</tspan><tspan fill="#fff" stroke="#fff" stroke-width="0.12">°C</tspan></text>
<text x="345.2" y="418.1" font-size="9.5" textLength="46.8" lengthAdjust="spacingAndGlyphs"><tspan fill="#ffff20" stroke="#ffff20" stroke-width="0.12">1.336</tspan><tspan fill="#fff" stroke="#fff" stroke-width="0.12">MPaG</tspan></text>
<text x="123.7" y="492.6" font-size="9.8" fill="#fff" text-anchor="start" font-weight="normal" textLength="27.0" lengthAdjust="spacingAndGlyphs" stroke="#fff" stroke-width="0.12">78.4%</text>
<text x="164.6" y="492.6" font-size="9.8" fill="#fff" text-anchor="start" font-weight="normal" textLength="27.0" lengthAdjust="spacingAndGlyphs" stroke="#fff" stroke-width="0.12">78.4%</text>
<text x="244.8" y="492.6" font-size="9.5" textLength="37.4" lengthAdjust="spacingAndGlyphs"><tspan fill="#ffff20" stroke="#ffff20" stroke-width="0.12">5064</tspan><tspan fill="#fff" stroke="#fff" stroke-width="0.12">rpm</tspan></text>
<text x="244.2" y="502.2" font-size="9.8" fill="#fff" text-anchor="start" font-weight="normal" textLength="26.3" lengthAdjust="spacingAndGlyphs" stroke="#fff" stroke-width="0.12">90.7%</text>
<text x="439.8" y="248.0" font-size="9.5" textLength="27.5" lengthAdjust="spacingAndGlyphs"><tspan fill="#ffff20" stroke="#ffff20" stroke-width="0.12">60.0</tspan><tspan fill="#fff" stroke="#fff" stroke-width="0.12">%</tspan></text>
<text x="431.0" y="269.4" font-size="9.5" textLength="26.7" lengthAdjust="spacingAndGlyphs"><tspan fill="#ffff20" stroke="#ffff20" stroke-width="0.12">50.0</tspan><tspan fill="#fff" stroke="#fff" stroke-width="0.12">%</tspan></text>
<text x="386.9" y="320.4" font-size="9.8" fill="#fff" text-anchor="start" font-weight="normal" textLength="22.0" lengthAdjust="spacingAndGlyphs" stroke="#fff" stroke-width="0.12">0.5%</text>
<text x="429.5" y="374.9" font-size="9.8" fill="#fff" text-anchor="start" font-weight="normal" textLength="27.5" lengthAdjust="spacingAndGlyphs" stroke="#fff" stroke-width="0.12">81.9%</text>
<text x="562.8" y="351.9" font-size="9.8" fill="#fff" text-anchor="start" font-weight="normal" textLength="27.8" lengthAdjust="spacingAndGlyphs" stroke="#fff" stroke-width="0.12">83.2%</text>
<text x="488.3" y="290.4" font-size="9.5" textLength="26.3" lengthAdjust="spacingAndGlyphs"><tspan fill="#ffff20" stroke="#ffff20" stroke-width="0.12">1.20</tspan><tspan fill="#fff" stroke="#fff" stroke-width="0.12">m</tspan></text>
<text x="465.6" y="137.2" font-size="9.8" fill="#fff" text-anchor="start" font-weight="normal" textLength="14.0" lengthAdjust="spacingAndGlyphs" stroke="#fff" stroke-width="0.12">0%</text>
<text x="497.6" y="189.4" font-size="9.5" textLength="42.9" lengthAdjust="spacingAndGlyphs"><tspan fill="#ffff20" stroke="#ffff20" stroke-width="0.12">0.50</tspan><tspan fill="#fff" stroke="#fff" stroke-width="0.12">MPaG</tspan></text>
<text x="555.4" y="211.9" font-size="9.8" fill="#fff" text-anchor="start" font-weight="normal" textLength="19.2" lengthAdjust="spacingAndGlyphs" stroke="#fff" stroke-width="0.12">98%</text>
<text x="626.5" y="207.6" font-size="9.5" textLength="42.0" lengthAdjust="spacingAndGlyphs"><tspan fill="#ffff20" stroke="#ffff20" stroke-width="0.12">1.30</tspan><tspan fill="#fff" stroke="#fff" stroke-width="0.12">MPaG</tspan></text>
<text x="583.5" y="280.4" font-size="9.5" textLength="28.1" lengthAdjust="spacingAndGlyphs"><tspan fill="#ffff20" stroke="#ffff20" stroke-width="0.12">16.0</tspan><tspan fill="#fff" stroke="#fff" stroke-width="0.12">°C</tspan></text>
<text x="626.5" y="280.4" font-size="9.8" fill="#fff" text-anchor="start" font-weight="normal" textLength="19.8" lengthAdjust="spacingAndGlyphs" stroke="#fff" stroke-width="0.12">28%</text>
<text x="648.6" y="288.6" font-size="9.5" textLength="53.9" lengthAdjust="spacingAndGlyphs"><tspan fill="#ffff20" stroke="#ffff20" stroke-width="0.12">264</tspan><tspan fill="#fff" stroke="#fff" stroke-width="0.12"> k Nm3/h</tspan></text>
<text x="451.7" y="107.9" font-size="10.5" fill="#fff" text-anchor="start" font-weight="normal" textLength="30.5" lengthAdjust="spacingAndGlyphs" stroke="#fff" stroke-width="0.30">HV121</text>
<text x="287.4" y="181.9" font-size="11.0" fill="#fff" text-anchor="start" font-weight="normal" textLength="30.3" lengthAdjust="spacingAndGlyphs" stroke="#fff" stroke-width="0.30">HV302</text>
<text x="359.4" y="285.1" font-size="11.0" fill="#fff" text-anchor="start" font-weight="normal" textLength="29.5" lengthAdjust="spacingAndGlyphs" stroke="#fff" stroke-width="0.30">HV301</text>
<rect x="93.0" y="139.6" width="34.1" height="12.4" fill="#2c4c4c" stroke="#607070" stroke-width="0.8"/>
<text x="96.0" y="150.0" font-size="10.0" fill="#fff" text-anchor="start" font-weight="normal" textLength="28.5" lengthAdjust="spacingAndGlyphs">HV101</text>
<rect x="226.6" y="537.4" width="33.7" height="12.6" fill="#2c4c4c" stroke="#607070" stroke-width="0.8"/>
<text x="229.0" y="547.6" font-size="10.0" fill="#fff" text-anchor="start" font-weight="normal" textLength="28.5" lengthAdjust="spacingAndGlyphs">HV151</text>
<polygon points="44.3,63.2 61.1,63.2 61.1,111.6 52.7,119.2 52.7,119.2 44.3,111.6" fill="#b8b8b8" stroke="#e0e0e0" stroke-width="0.6"/>
<text x="0" y="0" font-size="10.5" fill="#1a1a90" text-anchor="middle" transform="translate(52.7,89.2) rotate(90)" dy="3.8" textLength="41.5" lengthAdjust="spacing">混合ガス</text>
<polygon points="75.1,63.2 91.9,63.2 91.9,111.6 83.5,119.2 83.5,119.2 75.1,111.6" fill="#b8b8b8" stroke="#e0e0e0" stroke-width="0.6"/>
<text x="0" y="0" font-size="11.0" fill="#1a1a90" text-anchor="middle" transform="translate(83.5,87.8) rotate(90)" dy="4.0">N2ガス</text>
<polygon points="352.2,324.5 358.0,324.5 363.7,330.5 363.7,369.8 346.6,369.8 346.6,330.5" fill="#b0e8ee"/>
<text x="0" y="0" font-size="10.5" fill="#1830a0" text-anchor="middle" transform="translate(355.1,350.1) rotate(90)" dy="3.8">冷却水</text>
<polygon points="545.6,372.9 551.4,372.9 557.1,378.3 557.1,437.7 540.0,437.7 540.0,378.3" fill="#b0e8ee"/>
<text x="0" y="0" font-size="11.0" fill="#1830a0" text-anchor="middle" transform="translate(548.5,408.0) rotate(90)" dy="4.0" textLength="52.0" lengthAdjust="spacing">プロピレン</text>
<rect x="105.0" y="76.0" width="76.0" height="18.0" fill="#6a5acd" />
<polyline points="105.5,94.0 105.5,76.5 181.0,76.5" fill="none" stroke="#a89ce8" stroke-width="1"/>
<polyline points="105.0,93.5 180.5,93.5 180.5,76.0" fill="none" stroke="#181050" stroke-width="1"/>
<text x="143.0" y="88.6" font-size="10.0" fill="#fff" text-anchor="middle" font-weight="normal">フィード条件</text>
<rect x="115.0" y="497.0" width="76.0" height="18.0" fill="#6a5acd" />
<polyline points="115.5,515.0 115.5,497.5 191.0,497.5" fill="none" stroke="#a89ce8" stroke-width="1"/>
<polyline points="115.0,514.5 190.5,514.5 190.5,497.0" fill="none" stroke="#181050" stroke-width="1"/>
<text x="153.0" y="509.6" font-size="10.0" fill="#fff" text-anchor="middle" font-weight="normal">ランプ設定</text>
<rect x="598.0" y="479.0" width="97.5" height="17.5" fill="#6a5acd" />
<polyline points="598.5,496.5 598.5,479.5 695.5,479.5" fill="none" stroke="#a89ce8" stroke-width="1"/>
<polyline points="598.0,496.0 695.0,496.0 695.0,479.0" fill="none" stroke="#181050" stroke-width="1"/>
<text x="646.8" y="492.0" font-size="9.5" fill="#fff" text-anchor="middle" font-weight="normal">ｺﾝﾌﾟﾚｯｻｰ性能画面</text>
<rect x="598.0" y="500.2" width="97.5" height="17.6" fill="#6a5acd" />
<polyline points="598.5,517.8 598.5,500.7 695.5,500.7" fill="none" stroke="#a89ce8" stroke-width="1"/>
<polyline points="598.0,517.3 695.0,517.3 695.0,500.2" fill="none" stroke="#181050" stroke-width="1"/>
<text x="646.8" y="512.6" font-size="10.0" fill="#fff" text-anchor="middle" font-weight="normal">サージング</text>
<rect x="598.0" y="521.3" width="97.5" height="17.7" fill="#6a5acd" />
<polyline points="598.5,539.0 598.5,521.8 695.5,521.8" fill="none" stroke="#a89ce8" stroke-width="1"/>
<polyline points="598.0,538.5 695.0,538.5 695.0,521.3" fill="none" stroke="#181050" stroke-width="1"/>
<text x="646.8" y="533.8" font-size="10.0" fill="#fff" text-anchor="middle" font-weight="normal">条件変更</text>
<rect x="598.0" y="542.0" width="97.5" height="18.5" fill="#6a5acd" />
<polyline points="598.5,560.5 598.5,542.5 695.5,542.5" fill="none" stroke="#a89ce8" stroke-width="1"/>
<polyline points="598.0,560.0 695.0,560.0 695.0,542.0" fill="none" stroke="#181050" stroke-width="1"/>
<text x="646.8" y="554.9" font-size="10.0" fill="#fff" text-anchor="middle" font-weight="normal">スタートアップ</text>
<rect x="592.0" y="38.6" width="103.0" height="23.4" fill="#4169e1" />
<polyline points="592.5,62.0 592.5,39.1 695.0,39.1" fill="none" stroke="#7090f0" stroke-width="1"/>
<polyline points="592.0,61.5 694.5,61.5 694.5,38.6" fill="none" stroke="#203080" stroke-width="1"/>
<text x="643.5" y="54.3" font-size="11.0" fill="#fff" text-anchor="middle" font-weight="normal">制御グループ</text>
<rect x="592.0" y="65.3" width="103.0" height="22.9" fill="#7cfc00" />
<polyline points="592.5,88.2 592.5,65.8 695.0,65.8" fill="none" stroke="#b0ff80" stroke-width="1"/>
<polyline points="592.0,87.7 694.5,87.7 694.5,65.3" fill="none" stroke="#408000" stroke-width="1"/>
<text x="643.5" y="80.7" font-size="11.0" fill="#000" text-anchor="middle" font-weight="normal">トレンドグループ</text>
<rect x="592.0" y="91.8" width="103.0" height="23.2" fill="#ffff00" />
<polyline points="592.5,115.0 592.5,92.3 695.0,92.3" fill="none" stroke="#ffffa0" stroke-width="1"/>
<polyline points="592.0,114.5 694.5,114.5 694.5,91.8" fill="none" stroke="#808000" stroke-width="1"/>
<text x="643.5" y="107.4" font-size="11.0" fill="#000" text-anchor="middle" font-weight="normal">アラームサマリ</text>
<rect x="288.0" y="42.0" width="198.0" height="27.3" fill="#4b0082" stroke="#e0e0f0" stroke-width="1.5"/>
<text x="390.0" y="59.6" font-size="14.0" fill="#fff" text-anchor="middle" font-weight="bold">圧縮機プロセス</text>
</svg></body></html>
